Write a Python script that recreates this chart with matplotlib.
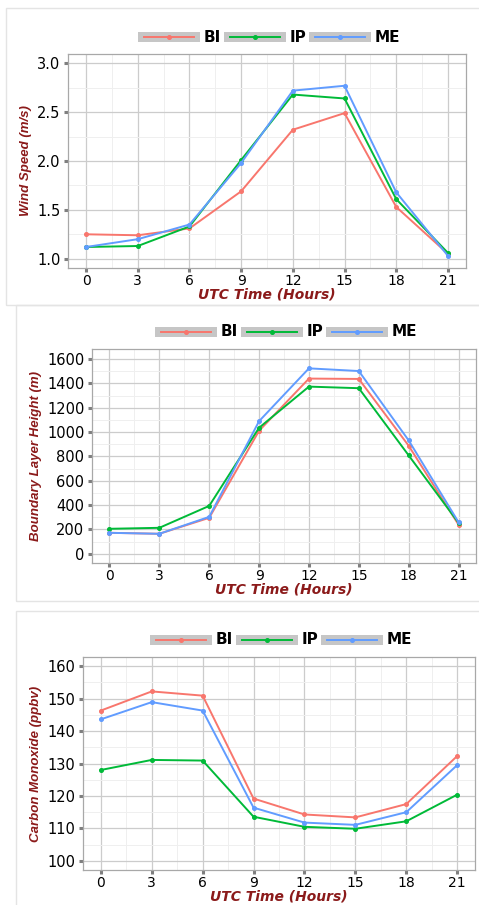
import numpy as np
import matplotlib.pyplot as plt
from matplotlib.patches import Rectangle
from matplotlib.lines import Line2D

hours = [0, 3, 6, 9, 12, 15, 18, 21]
series = ['BI', 'IP', 'ME']
colors = {'BI': '#F8766D', 'IP': '#00BA38', 'ME': '#619CFF'}

wind_bi = [1.25, 1.24, 1.31, 1.69, 2.32, 2.49, 1.53, 1.05]
wind_ip = [1.12, 1.13, 1.33, 2.01, 2.68, 2.64, 1.61, 1.06]
wind_me = [1.12, 1.20, 1.35, 1.98, 2.72, 2.77, 1.68, 1.03]

blh_bi = [172, 164, 295, 1010, 1439, 1436, 887, 238]
blh_ip = [205, 213, 393, 1035, 1373, 1360, 808, 254]
blh_me = [172, 164, 303, 1089, 1523, 1501, 931, 259]

co_bi = [146.3, 152.2, 150.9, 119.2, 114.3, 113.4, 117.5, 132.3]
co_ip = [128.0, 131.1, 130.9, 113.6, 110.5, 109.9, 112.2, 120.4]
co_me = [143.6, 148.9, 146.3, 116.4, 111.8, 111.1, 115.0, 129.5]

W, H = 479, 905
fig = plt.figure(figsize=(W / 100, H / 100), dpi=100)


def px(x, y):
    # pixel (from top-left) -> figure fraction
    return x / W, 1 - y / H


# light card frames around each panel
for (x0, y0, x1, y1) in [(6, 8, 482, 305), (16, 305, 482, 601), (16, 611, 482, 910)]:
    fx, fy = px(x0, y1)
    fig.patches.append(Rectangle((fx, fy), (x1 - x0) / W, (y1 - y0) / H,
                                 transform=fig.transFigure, fill=False,
                                 edgecolor='#e4e4e4', lw=1.0))

panels = [
    dict(box=(68, 54, 466, 268), data=[wind_bi, wind_ip, wind_me],
         ylim=(0.905, 3.095), yticks=[1.0, 1.5, 2.0, 2.5, 3.0],
         ylabels=['1.0', '1.5', '2.0', '2.5', '3.0'], ystep=0.25,
         ytitle='Wind Speed (m/s)', ytx=26),
    dict(box=(92, 349, 476, 563), data=[blh_bi, blh_ip, blh_me],
         ylim=(-76, 1682), yticks=list(range(0, 1601, 200)),
         ylabels=[str(v) for v in range(0, 1601, 200)], ystep=100,
         ytitle='Boundary Layer Height (m)', ytx=36),
    dict(box=(83, 657, 475, 870), data=[co_bi, co_ip, co_me],
         ylim=(97.2, 162.8), yticks=list(range(100, 161, 10)),
         ylabels=[str(v) for v in range(100, 161, 10)], ystep=5,
         ytitle='Carbon Monoxide (ppbv)', ytx=36),
]

title_red = '#8B1A1A'

for p in panels:
    x0, y0, x1, y1 = p['box']
    l, b = px(x0, y1)
    ax = fig.add_axes([l, b, (x1 - x0) / W, (y1 - y0) / H])
    ax.set_facecolor('white')

    for name, vals in zip(series, p['data']):
        ax.plot(hours, vals, color=colors[name], lw=1.4, marker='o', ms=2.6,
                zorder=3)

    ax.set_xlim(-1.05, 22.05)
    ax.set_xticks(hours)
    ax.set_xticklabels([str(h) for h in hours])
    ax.set_yticks(p['yticks'])
    ax.set_yticklabels(p['ylabels'])
    ax.set_xticks([h + 1.5 for h in hours[:-1]], minor=True)
    ys = p['ystep']
    ax.set_yticks(np.arange(p['yticks'][0] - ys, p['yticks'][-1] + ys * 1.01, 2 * ys),
                  minor=True)
    ax.set_ylim(*p['ylim'])

    ax.grid(which='major', color='#cccccc', lw=0.9, zorder=0)
    ax.grid(which='minor', color='#efefef', lw=0.7, zorder=0)
    ax.set_axisbelow(True)
    ax.tick_params(which='minor', length=0)
    ax.tick_params(which='major', length=3, width=2.2, color='#7f7f7f',
                   labelcolor='black')
    ax.tick_params(axis='x', pad=1.2, labelsize=10)
    ax.tick_params(axis='y', pad=2.5, labelsize=10.5)
    for s in ax.spines.values():
        s.set_color('#a8a8a8')
        s.set_linewidth(0.9)

    ax.set_xlabel('UTC Time (Hours)', fontsize=10, fontweight='bold',
                  fontstyle='italic', color=title_red, family='DejaVu Sans')
    ax.xaxis.set_label_coords(0.5, -0.124)
    ax.xaxis.label.set_va('center')
    ax.set_ylabel(p['ytitle'], fontsize=9.5, fontweight='bold',
                  fontstyle='italic', color=title_red, family='Liberation Sans')
    ax.yaxis.set_label_coords((p['ytx'] - x0) / (x1 - x0), 0.5)
    ax.yaxis.label.set_va('center')

    # legend drawn above the panel
    cx = (x0 + x1) / 2 + 2
    ly = y0 - 17
    start = cx - 131
    offsets = [0, 86, 171]
    for name, off in zip(series, offsets):
        kx = start + off
        fx, fy = px(kx, ly + 5)
        fig.patches.append(Rectangle((fx, fy), 62 / W, 10 / H,
                                     transform=fig.transFigure,
                                     facecolor='#c6c6c6', edgecolor='none'))
        lx0, lyy = px(kx + 6, ly)
        lx1, _ = px(kx + 56, ly)
        fig.lines.append(Line2D([lx0, lx1], [lyy, lyy], transform=fig.transFigure,
                                color=colors[name], lw=1.4))
        mx, _ = px(kx + 31, ly)
        fig.lines.append(Line2D([mx], [lyy], transform=fig.transFigure,
                                color=colors[name], marker='o', ms=2.6))
        tx, ty = px(kx + 66, ly)
        fig.text(tx, ty, name, fontsize=11, fontweight='bold', va='center',
                 ha='left', color='black', family='DejaVu Sans')

fig.savefig('out.png', dpi=100)
